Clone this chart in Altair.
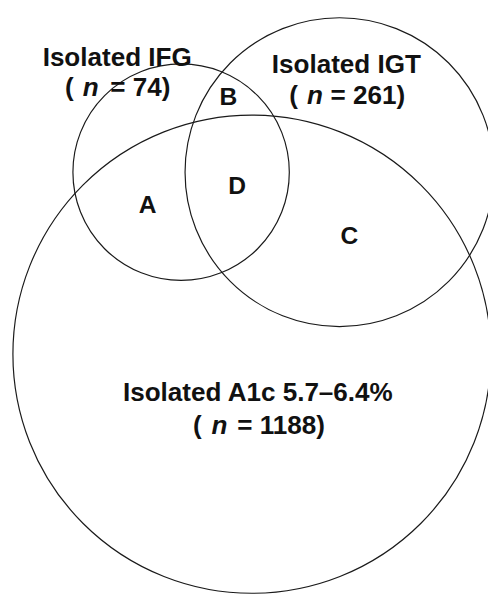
import altair as alt
import pandas as pd

# ---- data ----
set_names = ["Isolated IFG", "Isolated IGT", "Isolated A1c 5.7–6.4%"]
set_n = [74, 261, 1188]
region_labels = ["A", "B", "C", "D"]

# ---- layout (page pixel coordinates) ----
W, H = 488, 591
circle_cx = [184, 345, 256]
circle_cy = [170, 170, 355]
circle_r = [110, 157, 243]

title_x = [119, 352, 262]
title_y = [62, 69, 403]
nline_y = [93, 101, 436]
paren_x = [66, 294, 196]
ital_x = [84, 312, 215]
rest_x = [112, 336, 241]

region_x = [150, 232, 355, 241]
region_y = [211, 102, 243, 192]

FONT = "Liberation Sans"
FS = 26.5

circles = pd.DataFrame({
    "name": set_names,
    "x": circle_cx,
    "y": circle_cy,
    "size": [(2 * r) ** 2 for r in circle_r],
})

titles = pd.DataFrame({"text": set_names, "x": title_x, "y": title_y})

pieces = []
for i, n in enumerate(set_n):
    pieces.append({"text": "(", "x": paren_x[i], "y": nline_y[i], "style": "normal"})
    pieces.append({"text": "n", "x": ital_x[i], "y": nline_y[i], "style": "italic"})
    pieces.append({"text": f"= {n})", "x": rest_x[i], "y": nline_y[i], "style": "normal"})
nlines = pd.DataFrame(pieces)

regions = pd.DataFrame({"text": region_labels, "x": region_x, "y": region_y})

xs = alt.Scale(domain=[8, 8 + W], range=[0, W])
ys = alt.Scale(domain=[8, 8 + H], range=[0, H])
X = lambda: alt.X("x:Q", scale=xs, axis=None)
Y = lambda: alt.Y("y:Q", scale=ys, axis=None)

circ = alt.Chart(circles).mark_point(
    shape="circle", filled=False, stroke="#1a1a1a", strokeWidth=1.2, opacity=1
).encode(x=X(), y=Y(), size=alt.Size("size:Q", scale=None, legend=None))

title_layer = alt.Chart(titles).mark_text(
    font=FONT, fontSize=FS, fontWeight="bold", align="center", baseline="alphabetic", color="#111"
).encode(x=X(), y=Y(), text="text:N")

n_normal = alt.Chart(nlines).transform_filter(alt.datum.style == "normal").mark_text(
    font=FONT, fontSize=FS, fontWeight="bold", align="left", baseline="alphabetic", color="#111"
).encode(x=X(), y=Y(), text="text:N")

n_ital = alt.Chart(nlines).transform_filter(alt.datum.style == "italic").mark_text(
    font=FONT, fontSize=FS, fontWeight="bold", fontStyle="italic", align="left",
    baseline="alphabetic", color="#111"
).encode(x=X(), y=Y(), text="text:N")

region_layer = alt.Chart(regions).mark_text(
    font=FONT, fontSize=25, fontWeight="bold", align="center", baseline="alphabetic", color="#111"
).encode(x=X(), y=Y(), text="text:N")

chart = alt.layer(circ, title_layer, n_normal, n_ital, region_layer).properties(
    width=W, height=H, padding=0, background="white",
    autosize=alt.AutoSizeParams(type="none")
).configure_view(stroke=None)

chart.save("out.html", embed_options={"renderer": "svg", "actions": False})
